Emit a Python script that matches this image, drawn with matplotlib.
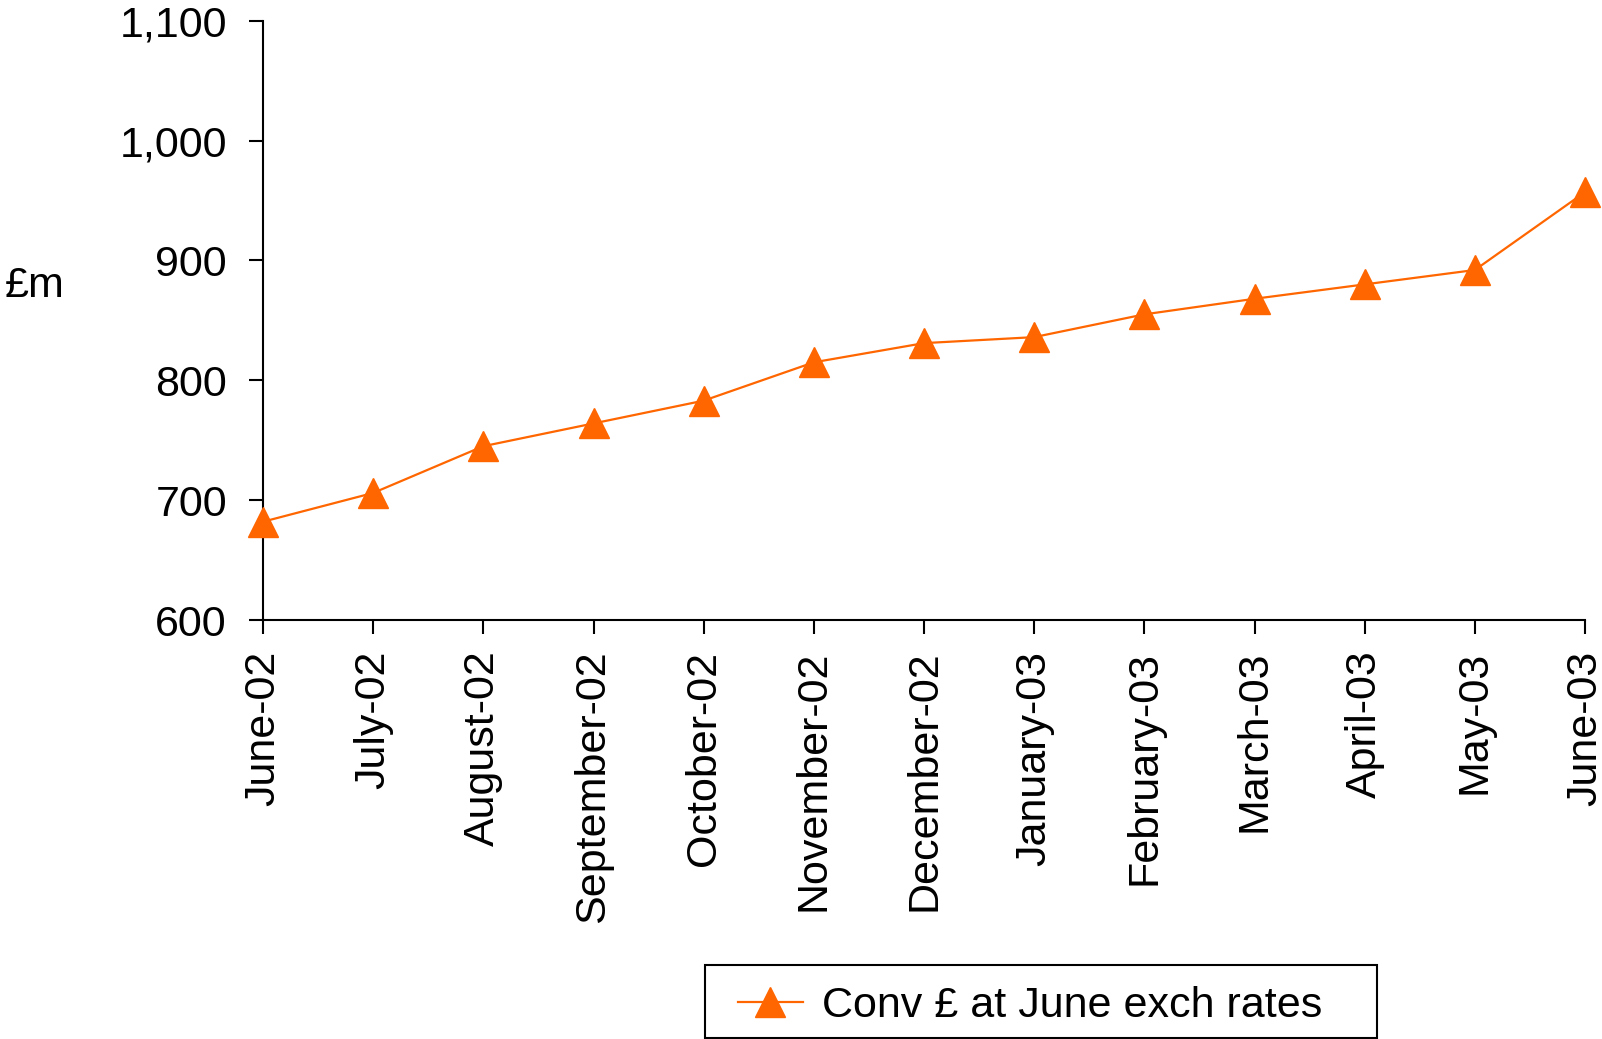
import matplotlib
matplotlib.use("Agg")
import matplotlib.pyplot as plt
from matplotlib.patches import Rectangle
from matplotlib.ticker import FuncFormatter

plt.rcParams['font.family'] = ['Liberation Sans', 'DejaVu Sans']

months = ["June-02", "July-02", "August-02", "September-02", "October-02",
          "November-02", "December-02", "January-03", "February-03",
          "March-03", "April-03", "May-03", "June-03"]
values = [682, 706, 745, 764, 783, 815, 831, 836, 855, 868, 880, 892, 957]
series_name = "Conv £ at June exch rates"
y_ticks = [600, 700, 800, 900, 1000, 1100]

orange = "#FF6600"
FS = 31

W, H = 1602, 1039
fig = plt.figure(figsize=(W / 100, H / 100), dpi=100)
ax = fig.add_axes([263 / W, 1 - 620 / H, (1585 - 263) / W, (620 - 20.7) / H])

x = list(range(len(months)))
line, = ax.plot(x, values, color=orange, lw=1.6, marker="^", markersize=21.5,
                markerfacecolor=orange, markeredgecolor=orange, clip_on=False,
                label=series_name, zorder=3)

ax.set_xlim(0, len(months) - 1)
ax.set_ylim(y_ticks[0], y_ticks[-1])
ax.set_yticks(y_ticks)
ax.yaxis.set_major_formatter(FuncFormatter(lambda v, p: f"{int(v):,}"))
ax.set_xticks(x)
ax.set_xticklabels(months, rotation=90)

for s in ("top", "right"):
    ax.spines[s].set_visible(False)
for s in ("left", "bottom"):
    ax.spines[s].set_linewidth(1.5)
    ax.spines[s].set_color("black")

ax.tick_params(axis="both", direction="out", length=10, width=1.5,
               labelsize=FS, colors="black")
ax.tick_params(axis="y", pad=16)
ax.tick_params(axis="x", pad=12)

fig.text(5 / W, 1 - 286 / H, "£m", fontsize=FS, ha="left", va="center")

# legend box with a plain black frame
fig.patches.append(Rectangle((705 / W, 1 - 1038 / H), (1377 - 705) / W, (1038 - 965) / H,
                             transform=fig.transFigure, facecolor="white",
                             edgecolor="black", linewidth=1.5, zorder=0))
leg = fig.legend(handles=[line], loc="center left",
                 bbox_to_anchor=(738 / W, 1 - 1006 / H),
                 fontsize=FS, frameon=False, handlelength=1.5, handletextpad=0.45,
                 borderpad=0, borderaxespad=0)

fig.savefig("out.png", dpi=100, facecolor="white")
